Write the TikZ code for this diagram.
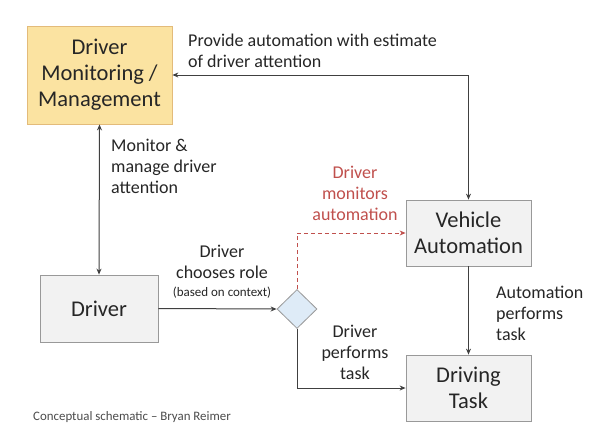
\documentclass[tikz,border=0pt]{standalone}
\usepackage{fontspec}
\setmainfont{Carlito}
\usetikzlibrary{arrows.meta,shapes.geometric}
\definecolor{boxgray}{HTML}{F2F2F2}
\definecolor{boxyel}{HTML}{FBE3A1}
\definecolor{dmblue}{HTML}{DEEBF7}
\definecolor{linec}{HTML}{404040}
\definecolor{redc}{HTML}{C0504D}
\begin{document}
\begin{tikzpicture}[x=1pt,y=-1pt,
  box/.style={draw=gray!80,line width=0.8pt,fill=boxgray,minimum width=#1,inner sep=0pt,align=center,font=\fontsize{22.5}{26}\selectfont,text=black!85},
  conn/.style={draw=linec,line width=1pt,-{Stealth[length=6pt,width=5pt]}},
  bconn/.style={draw=linec,line width=1pt,{Stealth[length=6pt,width=5pt]}-{Stealth[length=6pt,width=5pt]}},
  lbl/.style={font=\fontsize{18}{21}\selectfont,text=black!85,inner sep=0pt},
]
\useasboundingbox (0,0) rectangle (600,437);
\fill[white] (0,0) rectangle (600,437);
\node[box=145pt,minimum height=98pt,fill=boxyel,draw=boxyel!60!brown] (dmm) at (99.5,75) {Driver\\Monitoring /\\Management};
\node[box=118pt,minimum height=67pt] (drv) at (99,308.5) {Driver};
\node[box=125pt,minimum height=66pt] (va) at (468.5,233) {Vehicle\\Automation};
\node[box=125pt,minimum height=66pt] (dt) at (468.5,388) {Driving\\Task};
\node[diamond,draw=gray!80,line width=0.8pt,fill=dmblue,minimum width=40pt,minimum height=39pt,inner sep=0pt] (dia) at (297,309) {};
\coordinate (c1) at (va.north |- dmm.east);
\coordinate (c2) at (dia.north |- va.west);
\coordinate (c3) at (dia.south |- dt.west);
\draw[bconn] (dmm.east) -- (c1) -- (va.north);
\draw[bconn] (dmm.south) -- (drv.north);
\draw[conn] (drv.east) -- (dia.west);
\draw[conn] (va.south) -- (dt.north);
\draw[conn] (dia.south) -- (c3) -- (dt.west);
\draw[draw=redc,line width=1pt,dash pattern=on 4pt off 3pt,-{Stealth[length=6pt,width=5pt]}] (dia.north) -- (c2) -- (va.west);
\node[lbl,anchor=north west,align=left] (l1) at (188,34) {Provide automation with estimate\\of driver attention};
\node[lbl,anchor=north west,align=left] (l2) at (111,139) {Monitor \&\\manage driver\\attention};
\node[lbl,anchor=north,align=center] (l3) at (222,245) {Driver\\chooses role};
\node[font=\fontsize{13}{15}\selectfont,text=black!85,inner sep=0pt] (l4) at (222,293) {(based on context)};
\node[lbl,anchor=north,align=center,text=redc] (l5) at (355,166) {Driver\\monitors\\automation};
\node[lbl,anchor=north,align=center] (l6) at (355,325) {Driver\\performs\\task};
\node[lbl,anchor=north west,align=left] (l7) at (496,286) {Automation\\performs\\task};
\node[font=\fontsize{12.9}{15}\selectfont,text=black!70,inner sep=0pt,anchor=west] (l8) at (33,417) {Conceptual schematic – Bryan Reimer};
\end{tikzpicture}
\end{document}
